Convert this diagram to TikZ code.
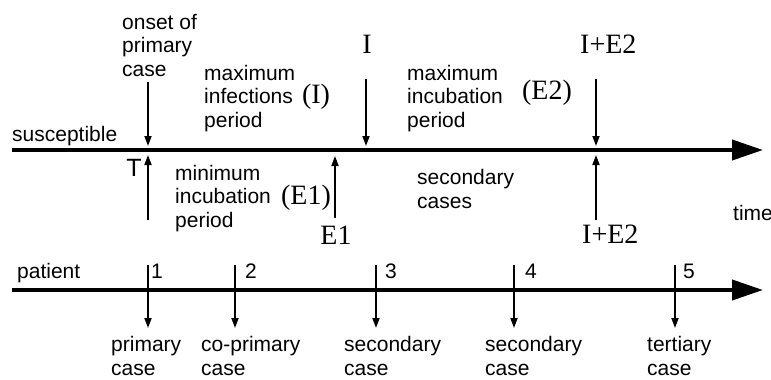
\documentclass[tikz,border=0pt]{standalone}
\usepackage{fontspec}
\setmainfont{Liberation Serif}
\setsansfont{Liberation Sans}
\usetikzlibrary{arrows.meta}
\begin{document}
\begin{tikzpicture}[x=1pt,y=-1pt,
  lbl/.style={font=\sffamily\fontsize{21}{23.5}\selectfont, inner sep=0pt, align=left, anchor=base west},
  sym/.style={font=\fontsize{28}{30}\selectfont, inner sep=0pt},
  axisline/.style={line width=4pt, -{Triangle[length=31pt,width=20pt]}},
  arr/.style={line width=1.8pt, -{Triangle[length=10pt,width=7pt]}}]
\useasboundingbox (0,0) rectangle (771,380);
% axes
\coordinate (sA) at (12,150); \coordinate (sB) at (763,150);
\coordinate (pA) at (12,290); \coordinate (pB) at (763,290);
\draw[axisline] (sA) -- (sB);
\draw[axisline] (pA) -- (pB);
% top texts (anchor = baseline of last line)
\node[lbl] (susc) at (12,141) {susceptible};
\node[lbl] (onset) at (122,76) {onset of\\primary\\case};
\node[lbl] (maxinf) at (204,127) {maximum\\infections\\period};
\node[sym] (parI) at (316,97) {(I)};
\node[sym, anchor=base] (Itop) at (367,53) {I};
\node[lbl] (maxinc) at (407,127) {maximum\\incubation\\period};
\node[sym] (parE2) at (547,93) {(E2)};
\node[sym, anchor=base west] (IEtop) at (580,53) {I+E2};
\node[lbl, anchor=base, font=\sffamily\fontsize{25}{28}\selectfont] (T) at (134,176) {T};
\node[lbl] (mininc) at (175,227) {minimum\\incubation\\period};
\node[sym] (parE1) at (306,198) {(E1)};
\node[sym, anchor=base] (E1) at (336,244) {E1};
\node[lbl] (seccases) at (417,208) {secondary\\cases};
\node[sym, anchor=base west] (IEbot) at (582,243) {I+E2};
\node[lbl] (time) at (733,220) {time};
% top arrows
\coordinate (a1s) at (148,82);  \coordinate (a1e) at (148,146);
\coordinate (a2s) at (366,79);  \coordinate (a2e) at (366,146);
\coordinate (a3s) at (596,79);  \coordinate (a3e) at (596,146);
\coordinate (b1s) at (148,220); \coordinate (b1e) at (148,155);
\coordinate (b2s) at (335,218); \coordinate (b2e) at (335,156);
\coordinate (b3s) at (596,220); \coordinate (b3e) at (596,155);
\draw[arr] (a1s) -- (a1e);
\draw[arr] (a2s) -- (a2e);
\draw[arr] (a3s) -- (a3e);
\draw[arr] (b1s) -- (b1e);
\draw[arr] (b2s) -- (b2e);
\draw[arr] (b3s) -- (b3e);
% patient line
\node[lbl] (patient) at (17,278) {patient};
\node[lbl] (n1) at (151,278) {1};
\node[lbl] (n2) at (245,278) {2};
\node[lbl] (n3) at (385,278) {3};
\node[lbl] (n4) at (525,278) {4};
\node[lbl] (n5) at (683,278) {5};
\foreach \x/\n in {148/1,235/2,376/3,514/4,675/5}{
  \coordinate (t\n s) at (\x,265);
  \coordinate (t\n e) at (\x,328);
  \draw[arr] (t\n s) -- (t\n e);
}
\node[lbl] (c1) at (111,375) {primary\\case};
\node[lbl] (c2) at (201,375) {co-primary\\case};
\node[lbl] (c3) at (344,375) {secondary\\case};
\node[lbl] (c4) at (485,375) {secondary\\case};
\node[lbl] (c5) at (647,375) {tertiary\\case};
\end{tikzpicture}
\end{document}
